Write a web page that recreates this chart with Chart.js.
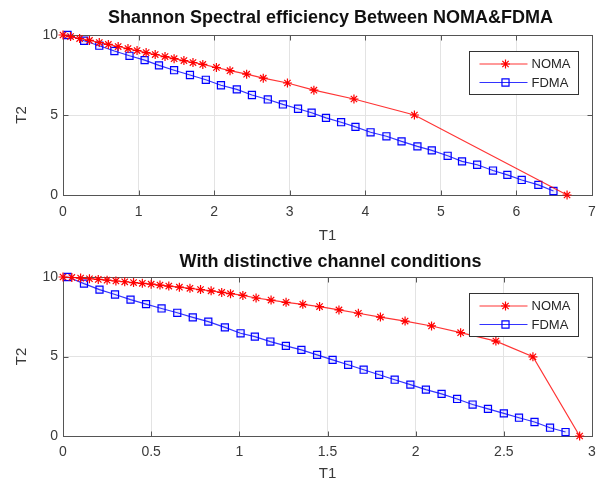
<!DOCTYPE html>
<html lang="en">
<head>
<meta charset="UTF-8">
<title>NOMA vs FDMA</title>
<script src="https://cdn.jsdelivr.net/npm/chart.js"></script>
<style>
  body { margin: 0; padding: 0; background: #fff; width: 606px; height: 485px; overflow: hidden; }
  .wrap { position: relative; width: 606px; }
  #topWrap { height: 245px; }
  #bottomWrap { height: 240px; }
</style>
</head>
<body>
<div class="wrap" id="topWrap"><canvas id="chartTop"></canvas></div>
<div class="wrap" id="bottomWrap"><canvas id="chartBottom"></canvas></div>
<script>
// top plot: Shannon spectral efficiency
const topNomaT1 = [0, 0.1, 0.22, 0.35, 0.48, 0.6, 0.73, 0.86, 0.98, 1.1, 1.22, 1.35, 1.47, 1.6, 1.72, 1.85, 2.03, 2.21, 2.43, 2.65, 2.97, 3.32, 3.85, 4.65, 6.67];
const topNomaT2 = [10, 9.9, 9.78, 9.66, 9.53, 9.41, 9.28, 9.15, 9.03, 8.9, 8.78, 8.65, 8.52, 8.4, 8.28, 8.16, 7.97, 7.77, 7.55, 7.3, 7.0, 6.55, 6.0, 5.0, 0];
const topFdmaT1 = [0.06, 0.28, 0.48, 0.68, 0.88, 1.08, 1.27, 1.47, 1.68, 1.89, 2.09, 2.3, 2.5, 2.71, 2.91, 3.11, 3.29, 3.48, 3.68, 3.87, 4.07, 4.28, 4.48, 4.69, 4.88, 5.09, 5.28, 5.48, 5.69, 5.88, 6.07, 6.29, 6.49];
const topFdmaT2 = [10, 9.64, 9.33, 9.0, 8.7, 8.43, 8.1, 7.8, 7.5, 7.2, 6.86, 6.6, 6.25, 5.97, 5.66, 5.39, 5.14, 4.82, 4.55, 4.26, 3.92, 3.67, 3.35, 3.04, 2.79, 2.45, 2.1, 1.89, 1.53, 1.26, 0.94, 0.63, 0.25];

// bottom plot: distinctive channel conditions
const botNomaT1 = [0, 0.05, 0.1, 0.15, 0.2, 0.25, 0.3, 0.35, 0.4, 0.45, 0.5, 0.55, 0.6, 0.66, 0.72, 0.78, 0.84, 0.9, 0.95, 1.02, 1.095, 1.18, 1.265, 1.36, 1.455, 1.565, 1.675, 1.8, 1.94, 2.09, 2.255, 2.455, 2.665, 2.93];
const botNomaT2 = [10, 9.97, 9.93, 9.89, 9.85, 9.8, 9.75, 9.7, 9.65, 9.6, 9.55, 9.49, 9.43, 9.36, 9.29, 9.21, 9.13, 9.03, 8.95, 8.84, 8.68, 8.55, 8.41, 8.28, 8.14, 7.93, 7.72, 7.48, 7.23, 6.92, 6.5, 5.97, 4.98, 0];
const botFdmaT1 = [0.026, 0.119, 0.207, 0.295, 0.383, 0.471, 0.559, 0.648, 0.736, 0.824, 0.918, 1.007, 1.088, 1.176, 1.264, 1.352, 1.441, 1.529, 1.617, 1.705, 1.793, 1.881, 1.97, 2.058, 2.147, 2.235, 2.323, 2.41, 2.5, 2.586, 2.674, 2.762, 2.85];
const botFdmaT2 = [10, 9.58, 9.21, 8.9, 8.58, 8.29, 8.02, 7.75, 7.46, 7.19, 6.83, 6.46, 6.25, 5.94, 5.67, 5.42, 5.1, 4.79, 4.48, 4.17, 3.85, 3.54, 3.23, 2.92, 2.65, 2.33, 1.98, 1.71, 1.42, 1.15, 0.88, 0.52, 0.25];

const seriesNames = ['NOMA', 'FDMA'];
const titles = ['Shannon Spectral efficiency Between NOMA&FDMA', 'With distinctive channel conditions'];

const FONT = "'Liberation Sans', Arial, sans-serif";
const AXIS_COLOR = '#3a3a3a';

function pts(xs, ys) {
    return xs.map((x, i) => ({ x: x, y: ys[i] }));
}

// full axes box with inward ticks, like matlab
const boxPlugin = {
    id: 'matlabBox',
    beforeDatasetsDraw(chart) {
        const { ctx, chartArea: a, scales: { x, y } } = chart;
        const L = Math.round(a.left) + 0.5, R = Math.round(a.right) + 0.5;
        const T = Math.round(a.top) + 0.5, B = Math.round(a.bottom) + 0.5;
        ctx.save();
        ctx.strokeStyle = '#555';
        ctx.lineWidth = 1;
        ctx.strokeRect(L, T, R - L, B - T);
        ctx.beginPath();
        x.ticks.forEach(t => {
            const px = Math.round(x.getPixelForValue(t.value)) + 0.5;
            ctx.moveTo(px, B); ctx.lineTo(px, B - 5);
            ctx.moveTo(px, T); ctx.lineTo(px, T + 5);
        });
        y.ticks.forEach(t => {
            const py = Math.round(y.getPixelForValue(t.value)) + 0.5;
            ctx.moveTo(L, py); ctx.lineTo(L + 5, py);
            ctx.moveTo(R, py); ctx.lineTo(R - 5, py);
        });
        ctx.stroke();
        ctx.restore();
    }
};

// title centred over the axes, not the canvas
const titlePlugin = {
    id: 'axesTitle',
    afterDraw(chart, args, opts) {
        const { ctx, chartArea: a } = chart;
        ctx.save();
        ctx.fillStyle = '#111';
        ctx.font = 'bold 18px ' + FONT;
        ctx.textAlign = 'center';
        ctx.textBaseline = 'middle';
        ctx.fillText(opts.text, (a.left + a.right) / 2 + 3, opts.y);
        ctx.restore();
    }
};

function drawMarker(ctx, style, x, y, r) {
    ctx.beginPath();
    if (style === 'rect') {
        const s = r / Math.SQRT2;
        ctx.rect(x - s, y - s, 2 * s, 2 * s);
    } else {
        const d = r / Math.SQRT2;
        ctx.moveTo(x - r, y); ctx.lineTo(x + r, y);
        ctx.moveTo(x, y - r); ctx.lineTo(x, y + r);
        ctx.moveTo(x - d, y - d); ctx.lineTo(x + d, y + d);
        ctx.moveTo(x - d, y + d); ctx.lineTo(x + d, y - d);
    }
    ctx.stroke();
}

// legend box in the top-right corner of the axes
const legendPlugin = {
    id: 'matlabLegend',
    afterDraw(chart) {
        const { ctx, chartArea: a } = chart;
        const w = 109, h = 43;
        const left = Math.round(a.right - 14 - w) + 0.5;
        const top = Math.round(a.top + 16) + 0.5;
        ctx.save();
        ctx.fillStyle = '#fff';
        ctx.fillRect(left, top, w, h);
        ctx.strokeStyle = '#333';
        ctx.lineWidth = 1;
        ctx.strokeRect(left, top, w, h);
        chart.data.datasets.forEach((ds, i) => {
            const yy = top + 12.5 + i * 18.5;
            ctx.strokeStyle = ds.borderColor;
            ctx.lineWidth = 1.2;
            ctx.beginPath();
            ctx.moveTo(left + 10, yy);
            ctx.lineTo(left + 58, yy);
            ctx.stroke();
            ctx.strokeStyle = ds.pointBorderColor;
            drawMarker(ctx, ds.pointStyle, left + 36, yy, ds.pointRadius);
            ctx.fillStyle = '#262626';
            ctx.font = '13px ' + FONT;
            ctx.textBaseline = 'middle';
            ctx.textAlign = 'left';
            ctx.fillText(ds.label, left + 62, yy + 0.5);
        });
        ctx.restore();
    }
};

function makeChart(id, title, nomaPts, fdmaPts, xMax, xStep, geo) {
    return new Chart(document.getElementById(id), {
        type: 'line',
        data: {
            datasets: [{
                label: seriesNames[0],
                data: nomaPts,
                borderColor: 'rgba(255,0,0,0.8)',
                borderWidth: 1.2,
                pointStyle: 'star',
                pointRadius: 4.5,
                pointBorderColor: '#ff0000',
                pointBorderWidth: 1.2,
                pointBackgroundColor: '#ff0000',
                tension: 0,
                clip: false
            }, {
                label: seriesNames[1],
                data: fdmaPts,
                borderColor: 'rgba(0,0,255,0.8)',
                borderWidth: 1.2,
                pointStyle: 'rect',
                pointRadius: 5,
                pointBorderColor: '#0000ff',
                pointBorderWidth: 1.2,
                pointBackgroundColor: 'rgba(0,0,255,0.08)',
                tension: 0,
                clip: false
            }]
        },
        options: {
            responsive: true,
            maintainAspectRatio: false,
            animation: false,
            layout: { padding: { left: 0, right: 14, top: geo.top, bottom: 0 } },
            plugins: {
                legend: { display: false },
                tooltip: { enabled: false },
                title: { display: false },
                axesTitle: { text: title, y: geo.titleY }
            },
            scales: {
                x: {
                    type: 'linear',
                    min: 0, max: xMax,
                    ticks: { stepSize: xStep, color: AXIS_COLOR, padding: geo.xTickPad, maxRotation: 0,
                             font: { family: FONT, size: 14 },
                             callback: v => String(Math.round(v * 10) / 10) },
                    grid: { color: '#e3e3e3', drawTicks: false },
                    border: { display: false },
                    title: { display: true, text: 'T1', color: AXIS_COLOR,
                             font: { family: FONT, size: 15 }, padding: { top: 0, bottom: geo.xTitlePad } },
                    afterFit(s) { s.height = geo.xHeight; }
                },
                y: {
                    min: 0, max: 10,
                    ticks: { stepSize: 5, color: AXIS_COLOR, padding: 5, font: { family: FONT, size: 14 } },
                    grid: { color: '#e3e3e3', drawTicks: false },
                    border: { display: false },
                    title: { display: true, text: 'T2', color: AXIS_COLOR,
                             font: { family: FONT, size: 15 }, padding: { top: 13, bottom: 0 } },
                    afterFit(s) { s.width = 63; }
                }
            }
        },
        plugins: [boxPlugin, legendPlugin, titlePlugin]
    });
}

makeChart('chartTop', titles[0], pts(topNomaT1, topNomaT2), pts(topFdmaT1, topFdmaT2), 7, 1,
    { top: 35, titleY: 18, xTickPad: 8.6, xTitlePad: 0, xHeight: 50 });
makeChart('chartBottom', titles[1], pts(botNomaT1, botNomaT2), pts(botFdmaT1, botFdmaT2), 3, 0.5,
    { top: 32, titleY: 17, xTickPad: 7.6, xTitlePad: 2, xHeight: 49 });
</script>
</body>
</html>
